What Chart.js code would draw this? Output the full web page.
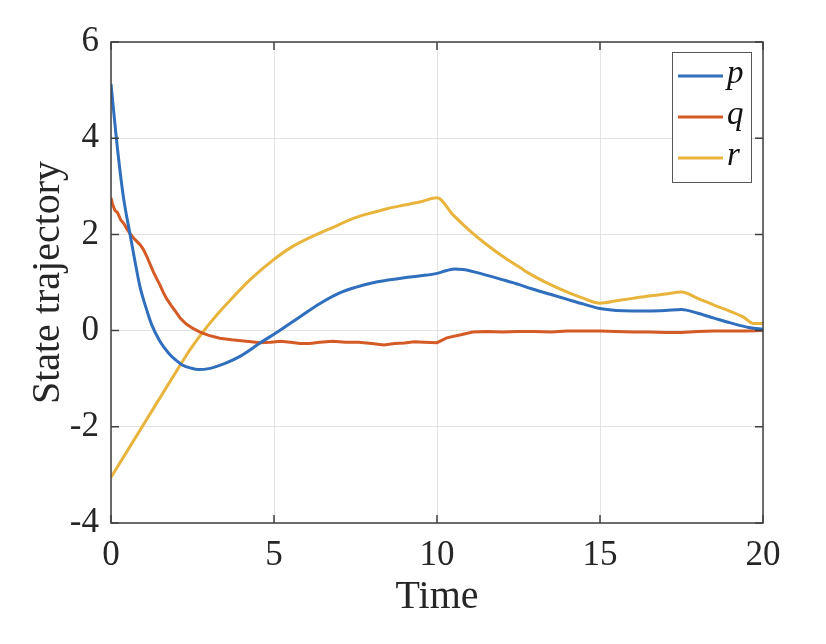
<!DOCTYPE html>
<html>
<head>
<meta charset="utf-8">
<script src="https://cdn.jsdelivr.net/npm/chart.js@4"></script>
<style>
  html, body { margin: 0; padding: 0; background: #fff; }
  #wrap { width: 826px; height: 644px; }
</style>
</head>
<body>
<div id="wrap"><canvas id="stateChart" width="826" height="644"></canvas></div>
<script>
// --- data ---
const tP = [0, 0.17, 0.38, 0.58, 0.89, 0.99, 1.1, 1.25, 1.5, 1.77, 2.0, 2.2, 2.45, 2.68, 3.0, 3.5, 4.0, 4.57, 5.08, 5.8, 6.4, 7.0, 7.5, 8.0, 8.5, 9.0, 9.5, 10.0, 10.3, 10.55, 10.8, 11.2, 12.0, 12.55, 12.85, 13.5, 14.0, 14.5, 15.0, 15.5, 16.0, 16.5, 17.0, 17.5, 18.0, 18.5, 19.0, 19.6, 20];
const pVals = [5.13, 3.96, 2.78, 2.02, 0.91, 0.66, 0.42, 0.12, -0.22, -0.47, -0.62, -0.72, -0.78, -0.81, -0.79, -0.68, -0.52, -0.26, -0.04, 0.29, 0.56, 0.78, 0.9, 0.99, 1.05, 1.1, 1.14, 1.19, 1.25, 1.28, 1.27, 1.21, 1.06, 0.95, 0.88, 0.75, 0.65, 0.55, 0.46, 0.42, 0.41, 0.41, 0.42, 0.44, 0.36, 0.26, 0.16, 0.06, 0.03];

const tQ = [0, 0.05, 0.12, 0.2, 0.3, 0.4, 0.5, 0.58, 0.7, 0.8, 0.9, 1.0, 1.1, 1.2, 1.3, 1.4, 1.5, 1.6, 1.71, 1.85, 2.0, 2.12, 2.3, 2.5, 2.73, 3.0, 3.34, 3.7, 4.0, 4.3, 4.57, 4.9, 5.2, 5.5, 5.8, 6.1, 6.4, 6.8, 7.2, 7.6, 8.0, 8.37, 8.7, 9.0, 9.3, 9.6, 10.0, 10.3, 10.7, 11.1, 11.5, 12.0, 12.5, 13.0, 13.5, 14.0, 14.5, 15.0, 15.5, 16.0, 16.5, 17.0, 17.5, 18.0, 18.5, 19.0, 19.5, 20];
const qVals = [2.76, 2.62, 2.5, 2.45, 2.3, 2.22, 2.1, 2.02, 1.92, 1.85, 1.78, 1.68, 1.54, 1.38, 1.22, 1.08, 0.95, 0.8, 0.66, 0.52, 0.38, 0.26, 0.14, 0.05, -0.03, -0.1, -0.16, -0.19, -0.21, -0.23, -0.25, -0.24, -0.22, -0.24, -0.27, -0.27, -0.24, -0.22, -0.24, -0.24, -0.27, -0.3, -0.27, -0.26, -0.23, -0.24, -0.25, -0.15, -0.09, -0.03, -0.02, -0.03, -0.02, -0.02, -0.03, -0.01, -0.01, -0.01, -0.02, -0.03, -0.03, -0.04, -0.04, -0.02, -0.01, -0.01, -0.01, 0];

const tR = [0, 0.5, 0.89, 1.5, 2.12, 2.42, 2.83, 3.25, 3.75, 4.3, 4.98, 5.5, 6.0, 6.72, 7.5, 8.0, 8.5, 9.0, 9.5, 10.0, 10.5, 11.0, 11.5, 12.0, 12.55, 12.85, 13.5, 14.0, 14.5, 15.0, 15.5, 16.0, 16.5, 17.0, 17.5, 18.0, 18.5, 19.0, 19.4, 19.7, 20];
const rVals = [-3.05, -2.5, -2.07, -1.4, -0.72, -0.4, -0.02, 0.33, 0.7, 1.08, 1.47, 1.72, 1.9, 2.12, 2.35, 2.45, 2.54, 2.61, 2.68, 2.76, 2.4, 2.08, 1.8, 1.55, 1.31, 1.18, 0.95, 0.8, 0.67, 0.57, 0.62, 0.67, 0.72, 0.76, 0.8, 0.67, 0.53, 0.4, 0.28, 0.15, 0.15];

const seriesNames = ['p', 'q', 'r'];
const xTicks = [0, 5, 10, 15, 20];
const yTicks = [-4, -2, 0, 2, 4, 6];

const toPoints = (ts, vs) => ts.map((t, i) => ({ x: t, y: vs[i] }));

const AXIS_COLOR = '#404040';
const SERIF = "'Liberation Serif', 'DejaVu Serif', serif";

// MATLAB-style box, inward ticks and legend
const matlabFrame = {
    id: 'matlabFrame',
    afterDatasetsDraw(chart) {
        const { ctx, chartArea: a, scales } = chart;
        ctx.save();
        ctx.strokeStyle = AXIS_COLOR;
        ctx.lineWidth = 1.5;
        ctx.strokeRect(a.left, a.top, a.right - a.left, a.bottom - a.top);
        const len = 8;
        ctx.beginPath();
        xTicks.forEach(v => {
            const px = scales.x.getPixelForValue(v);
            ctx.moveTo(px, a.bottom); ctx.lineTo(px, a.bottom - len);
            ctx.moveTo(px, a.top); ctx.lineTo(px, a.top + len);
        });
        yTicks.forEach(v => {
            const py = scales.y.getPixelForValue(v);
            ctx.moveTo(a.left, py); ctx.lineTo(a.left + len, py);
            ctx.moveTo(a.right, py); ctx.lineTo(a.right - len, py);
        });
        ctx.stroke();

        // legend box
        const bx = 672, by = 52, bw = 79, bh = 130;
        ctx.fillStyle = '#fff';
        ctx.fillRect(bx, by, bw, bh);
        ctx.strokeStyle = '#555';
        ctx.lineWidth = 1;
        ctx.strokeRect(bx + 0.5, by + 0.5, bw, bh);
        chart.data.datasets.forEach((ds, i) => {
            const y = by + 24 + i * 41;
            ctx.strokeStyle = ds.borderColor;
            ctx.lineWidth = 3;
            ctx.beginPath();
            ctx.moveTo(bx + 6, y); ctx.lineTo(bx + 51, y);
            ctx.stroke();
            ctx.fillStyle = '#111';
            ctx.font = "italic 33px " + SERIF;
            ctx.textBaseline = 'alphabetic';
            ctx.fillText(ds.label, bx + 55, y + 7);
        });
        ctx.restore();
    }
};

const ctx = document.getElementById('stateChart').getContext('2d');
new Chart(ctx, {
    type: 'line',
    data: {
        datasets: [
            { label: seriesNames[0], data: toPoints(tP, pVals), borderColor: '#2f6fbd', borderWidth: 3, pointRadius: 0, cubicInterpolationMode: 'monotone', fill: false },
            { label: seriesNames[1], data: toPoints(tQ, qVals), borderColor: '#d45a26', borderWidth: 3, pointRadius: 0, tension: 0, fill: false },
            { label: seriesNames[2], data: toPoints(tR, rVals), borderColor: '#e8b43c', borderWidth: 3, pointRadius: 0, cubicInterpolationMode: 'monotone', fill: false }
        ]
    },
    options: {
        responsive: false,
        animation: false,
        devicePixelRatio: 1,
        layout: { padding: { left: 0, top: 42, right: 63, bottom: 0 } },
        plugins: { legend: { display: false }, tooltip: { enabled: false } },
        scales: {
            x: {
                type: 'linear', min: 0, max: 20,
                afterBuildTicks: s => { s.ticks = xTicks.map(v => ({ value: v })); },
                afterFit: s => { s.height = 121; },
                ticks: { color: '#262626', padding: 12, font: { family: SERIF, size: 35 }, maxRotation: 0 },
                grid: { color: '#e3e3e3', lineWidth: 1, drawTicks: false },
                border: { display: false },
                title: { display: true, text: 'Time', color: '#262626', font: { family: SERIF, size: 40 }, padding: { top: 0, bottom: 23 } }
            },
            y: {
                type: 'linear', min: -4, max: 6,
                afterBuildTicks: s => { s.ticks = yTicks.map(v => ({ value: v })); },
                afterFit: s => { s.width = 111; },
                ticks: { color: '#262626', padding: 12, font: { family: SERIF, size: 35 }, callback: v => String(v) },
                grid: { color: '#e3e3e3', lineWidth: 1, drawTicks: false },
                border: { display: false },
                title: { display: true, text: 'State trajectory', color: '#262626', font: { family: SERIF, size: 40 }, padding: { top: 24, bottom: 0 } }
            }
        }
    },
    plugins: [matlabFrame]
});
</script>
</body>
</html>
